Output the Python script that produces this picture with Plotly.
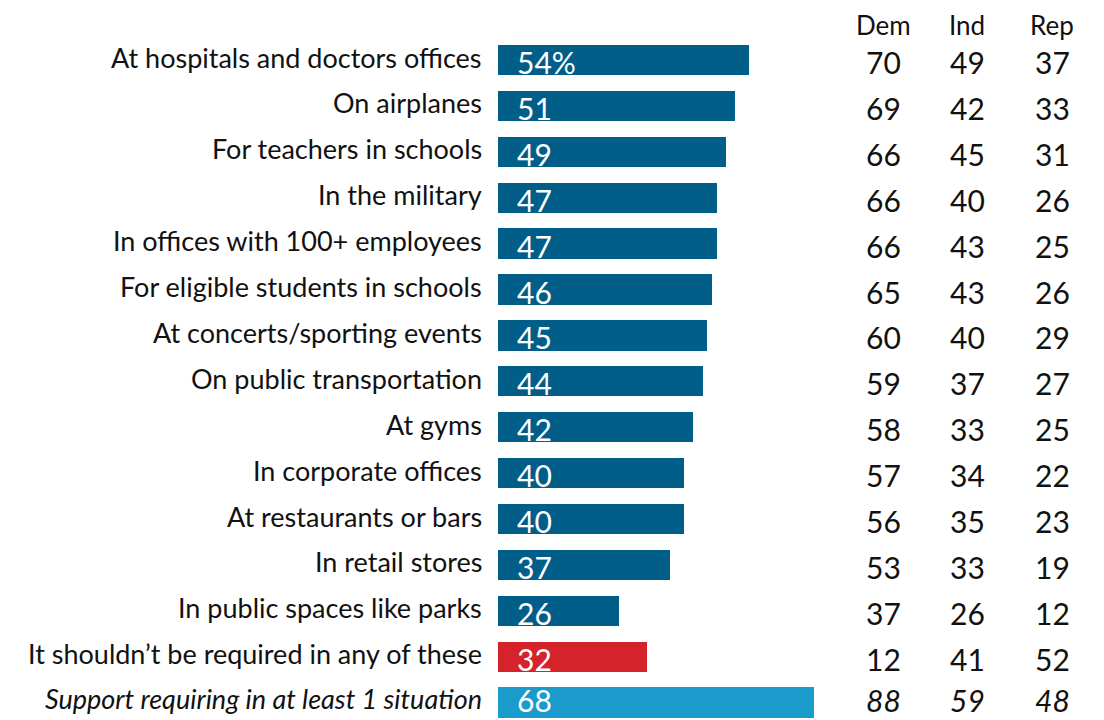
import plotly.graph_objects as go

categories = [
    "At hospitals and doctors offices",
    "On airplanes",
    "For teachers in schools",
    "In the military",
    "In offices with 100+ employees",
    "For eligible students in schools",
    "At concerts/sporting events",
    "On public transportation",
    "At gyms",
    "In corporate offices",
    "At restaurants or bars",
    "In retail stores",
    "In public spaces like parks",
    "It shouldn\u2019t be required in any of these",
    "Support requiring in at least 1 situation",
]
total = [54, 51, 49, 47, 47, 46, 45, 44, 42, 40, 40, 37, 26, 32, 68]
dem = [70, 69, 66, 66, 66, 65, 60, 59, 58, 57, 56, 53, 37, 12, 88]
ind = [49, 42, 45, 40, 43, 43, 40, 37, 33, 34, 35, 33, 26, 41, 59]
rep = [37, 33, 31, 26, 25, 26, 29, 27, 25, 22, 23, 19, 12, 52, 48]
col_headers = ["Dem", "Ind", "Rep"]

DARK = "#005E88"
RED = "#D4232A"
LIGHT = "#1A9BCB"
colors = [DARK] * 13 + [RED, LIGHT]

OFF = 8  # page body margin
W, H = 1104 - OFF * 2, 720 - OFF
FONT = "Lato"

n = len(categories)
ys = list(range(n))

fig = go.Figure()
fig.add_trace(go.Bar(
    x=total, y=ys, orientation="h", marker=dict(color=colors, line=dict(width=0)),
    width=0.66, hoverinfo="skip", showlegend=False,
))

# Page mapping: x page = 498 + 4.65*v ; y page = 60 + 46*i
px_per = 4.65
x0 = 498 - OFF
y0 = 60 - OFF
pitch = 45.9
xmin = -x0 / px_per
xmax = (W - x0) / px_per
ymin = -y0 / pitch
ymax = (H - y0) / pitch

def px(xpage):
    return (xpage - OFF) / W

annotations = []
for i in range(n):
    last = (i == n - 1)
    lab = f"<i>{categories[i]}</i>" if last else categories[i]
    annotations.append(dict(
        x=px(484), xref="paper", y=i, yref="y", text=lab, showarrow=False,
        xanchor="right", yanchor="middle", yshift=4 if last else 3,
        font=dict(family=FONT, size=27, color="#111111"),
    ))
    val = f"{total[i]}%" if i == 0 else str(total[i])
    annotations.append(dict(
        x=(515 - 498) / px_per, xref="x", y=i, yref="y", text=val, showarrow=False,
        xanchor="left", yanchor="middle", yshift=3 if last else -2,
        font=dict(family=FONT, size=30, color="white"),
    ))
    for cx, arr in zip([883, 967, 1052], [dem, ind, rep]):
        t = f"<i>{arr[i]}</i>" if last else str(arr[i])
        annotations.append(dict(
            x=px(cx), xref="paper", y=i, yref="y", text=t, showarrow=False,
            xanchor="center", yanchor="middle", yshift=3 if last else -2,
            font=dict(family=FONT, size=30, color="#111111"),
        ))

for cx, h in zip([883, 967, 1052], col_headers):
    annotations.append(dict(
        x=px(cx), xref="paper", y=1 - (25 - OFF) / H, yref="paper", text=h, showarrow=False,
        xanchor="center", yanchor="middle",
        font=dict(family=FONT, size=26, color="#111111"),
    ))

fig.update_layout(
    width=W, height=H,
    margin=dict(l=0, r=0, t=0, b=0),
    paper_bgcolor="white", plot_bgcolor="white",
    xaxis=dict(range=[xmin, xmax], visible=False, fixedrange=True),
    yaxis=dict(range=[ymax, ymin], visible=False, fixedrange=True),
    annotations=annotations,
    bargap=0,
)

fig.write_html("out.html", config={"displayModeBar": False})
